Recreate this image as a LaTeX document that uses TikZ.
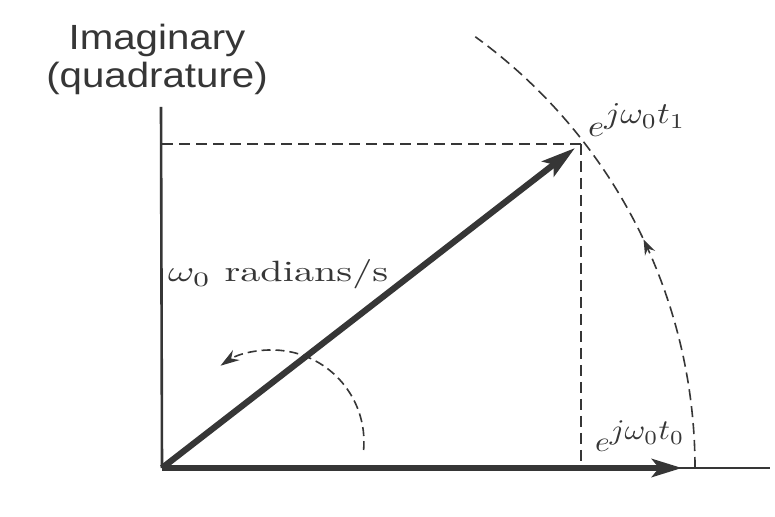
\documentclass[tikz,border=0pt]{standalone}
\usepackage{fontspec}
\usepackage{graphicx}
\newfontfamily\axisfont{Liberation Sans}
\usetikzlibrary{arrows.meta,decorations.markings}
\definecolor{ink}{HTML}{363636}
\begin{document}
\begin{tikzpicture}[x=1pt,y=1pt,line join=round,
  thinax/.style={draw=ink,line width=2.6pt},
  boldline/.style={draw=ink,line width=6.2pt},
  guide/.style={draw=ink,line width=1.6pt,dash pattern=on 11pt off 6pt},
  guidesmall/.style={draw=ink,line width=1.6pt,dash pattern=on 9pt off 5pt},
  bighead/.style={-{Stealth[length=30pt,width=18pt,inset=7pt]}},
  lbl/.style={text=ink,inner sep=0pt}]
\useasboundingbox (0,0) rectangle (775,516);
\fill[white] (0,0) rectangle (775,516);
% key points
\coordinate (O) at (162,48);
\coordinate (Ytop) at (161,409);
\coordinate (P) at (581,372);
\coordinate (Ptip) at (575,368);
\coordinate (Pleft) at (162,372);
\coordinate (Pfoot) at (581,48);
\coordinate (Xtip) at (682,48);
\coordinate (Xend) at (770,48);
\coordinate (Xarc) at (695,48);
\coordinate (S) at (363.6,66);
% axes
\draw[thinax] (O) -- (Ytop);
\draw[thinax] (O) -- (Xend);
% projections
\draw[guide] (Pleft) -- (P);
\draw[guide] (P) -- (Pfoot);
% big circle arc with arrow
\draw[guide,postaction={decorate},
  decoration={markings,mark=at position 0.47 with {\arrow{Stealth[length=15pt,width=11pt]}}}]
  (Xarc) arc[start angle=0,end angle=54,radius=533];
% small rotation arc
\draw[guidesmall,-{Stealth[length=19pt,width=12pt]}]
  (S) arc[start angle=-5,end angle=124,radius=92];
% phasors
\draw[boldline,bighead] (O) -- (Xtip);
\draw[boldline,-{Stealth[length=34pt,width=19pt,inset=7pt]}] (O) -- (Ptip);
% labels
\node[lbl,anchor=base] (ylab1) at (157,466)
  {\axisfont\fontsize{35}{40}\selectfont\scalebox{1.15}[1]{Imaginary}};
\node[lbl,anchor=base] (ylab2) at (157,428)
  {\axisfont\fontsize{35}{40}\selectfont\scalebox{1.15}[1]{(quadrature)}};
\node[lbl,anchor=base west] (rate) at (168,234)
  {\resizebox{220pt}{22pt}{$\omega_0$ radians/s}};
\node[lbl,anchor=base west] (e1) at (588,379)
  {\resizebox{97pt}{33pt}{$e$\raisebox{4.3pt}{$j\omega_0t_1$}}};
\node[lbl,anchor=base west] (e0) at (595,64)
  {\resizebox{89pt}{31pt}{$e$\raisebox{4.3pt}{$j\omega_0t_0$}}};
\end{tikzpicture}
\end{document}
